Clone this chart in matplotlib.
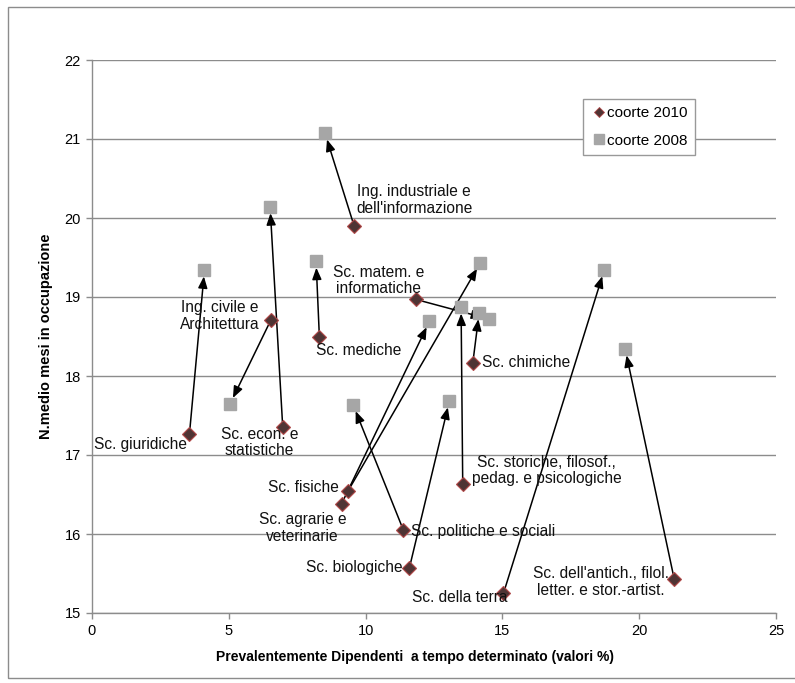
import matplotlib
matplotlib.use("Agg")
import matplotlib.pyplot as plt
from matplotlib.patches import Rectangle
from matplotlib.lines import Line2D

plt.rcParams["font.family"] = ["Liberation Sans", "DejaVu Sans"]

# Corsi di laurea (gruppi disciplinari)
categories = [
    "Ing. industriale e\ndell'informazione",
    "Ing. civile e\nArchitettura",
    "Sc. giuridiche",
    "Sc. econ. e\nstatistiche",
    "Sc. mediche",
    "Sc. matem. e\ninformatiche",
    "Sc. chimiche",
    "Sc. storiche, filosof.,\npedag. e psicologiche",
    "Sc. fisiche",
    "Sc. agrarie e\nveterinarie",
    "Sc. politiche e sociali",
    "Sc. biologiche",
    "Sc. della terra",
    "Sc. dell'antich., filol.\nletter. e stor.-artist.",
]

# coorte 2010
x_2010 = [9.58, 6.54, 3.56, 6.97, 8.31, 11.83, 13.92, 13.55, 9.35, 9.12, 11.38, 11.60, 15.04, 21.28]
y_2010 = [19.90, 18.71, 17.26, 17.36, 18.50, 18.97, 18.17, 16.63, 16.54, 16.38, 16.05, 15.57, 15.25, 15.43]

# coorte 2008
x_2008 = [8.52, 5.05, 4.11, 6.51, 8.19, 14.52, 14.15, 13.49, 14.19, 12.33, 9.55, 13.06, 18.72, 19.49]
y_2008 = [21.07, 17.65, 19.34, 20.14, 19.45, 18.72, 18.80, 18.87, 19.43, 18.69, 17.63, 17.68, 19.34, 18.34]

x_ticks = [0, 5, 10, 15, 20, 25]
y_ticks = [15, 16, 17, 18, 19, 20, 21, 22]

# label placement, offset in pixels from the 2010 marker
label_offsets = [
    (60, 26), (-51, 4), (-49, -10), (-23, -16), (39, -14), (-37, 19), (53, 0),
    (84, 14), (-44, 4), (-39, -24), (80, -1), (-55, 0), (-44, -4), (-73, -3),
]

W, H = 795, 683
fig = plt.figure(figsize=(W / 100, H / 100), dpi=100)
fig.patch.set_facecolor("white")

# outer chart frame
fig.patches.append(Rectangle((8 / W, 1 - 678 / H), 1.5, (678 - 7) / H,
                             transform=fig.transFigure, fill=False,
                             edgecolor="#8c8c8c", lw=1.0))

ax = fig.add_axes([92 / W, 1 - 613 / H, (776 - 92) / W, (613 - 60) / H])
ax.set_xlim(0, 25)
ax.set_ylim(15, 22)
ax.set_xticks(x_ticks)
ax.set_yticks(y_ticks)

grid_col = "#8c8c8c"
ax.yaxis.grid(True, color=grid_col, lw=1.0)
ax.set_axisbelow(True)
for s in ("top", "right"):
    ax.spines[s].set_visible(False)
for s in ("left", "bottom"):
    ax.spines[s].set_color(grid_col)
    ax.spines[s].set_linewidth(1.0)
ax.tick_params(direction="out", length=4, width=1, color=grid_col,
               labelsize=10.5, pad=4)

# arrows from 2010 to 2008
for xa, ya, xb, yb in zip(x_2010, y_2010, x_2008, y_2008):
    ax.annotate("", xy=(xb, yb), xytext=(xa, ya),
                arrowprops=dict(arrowstyle="-|>,head_length=0.7,head_width=0.28",
                                color="black", lw=1.1, shrinkA=0, shrinkB=4.5),
                zorder=2)

diamond_face = "#4f3434"
diamond_edge = "#b04848"
square_col = "#a6a6a6"

ax.plot(x_2008, y_2008, ls="none", marker="s", ms=8, mfc=square_col,
        mec=square_col, zorder=3)
ax.plot(x_2010, y_2010, ls="none", marker="D", ms=7, mfc=diamond_face,
        mec=diamond_edge, mew=0.8, zorder=4)

for name, xa, ya, (dx, dy) in zip(categories, x_2010, y_2010, label_offsets):
    ax.annotate(name, xy=(xa, ya), xytext=(dx, dy), textcoords="offset pixels",
                ha="center", va="center", fontsize=11.2, color="#111111",
                linespacing=1.1, zorder=5)

ax.set_xlabel("Prevalentemente Dipendenti  a tempo determinato (valori %)",
              fontsize=10, fontweight="bold")
ax.xaxis.set_label_coords((415 - 92) / (776 - 92), -(650 - 613) / (613 - 60))
ax.set_ylabel("N.medio mesi in occupazione", fontsize=10.5, fontweight="bold")
ax.yaxis.set_label_coords(-(92 - 53) / (776 - 92), 0.5)

handles = [
    Line2D([], [], ls="none", marker="D", ms=5, mfc=diamond_face,
           mec=diamond_edge, mew=0.6),
    Line2D([], [], ls="none", marker="s", ms=7, mfc=square_col, mec=square_col),
]
leg = ax.legend(handles, ["coorte 2010", "coorte 2008"], loc="upper left",
                bbox_to_anchor=(583 / W, 1 - 99 / H),
                bbox_transform=fig.transFigure, borderaxespad=0,
                fontsize=11, handlelength=1.2, handletextpad=-0.05,
                labelspacing=0.9, borderpad=0.45, fancybox=False,
                framealpha=1, edgecolor="#999999")
leg.get_frame().set_linewidth(1.0)
leg.set_zorder(6)

fig.savefig("out.png", dpi=100, facecolor="white")
